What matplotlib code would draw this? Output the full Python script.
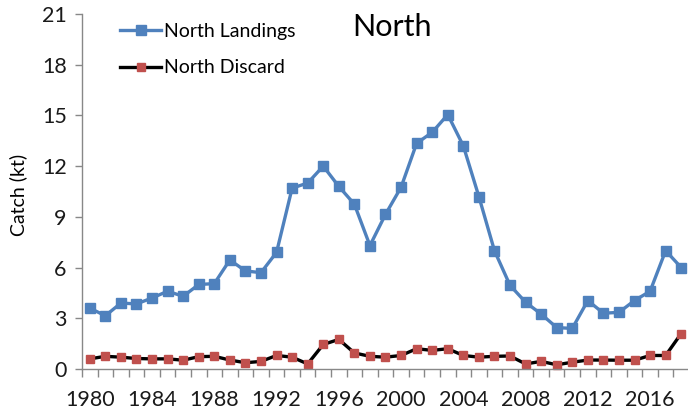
#!/usr/bin/env python3
"""
North catch chart: landings and discards by year
"""
import numpy as np
import matplotlib
matplotlib.use('Agg')
import matplotlib.pyplot as plt
from matplotlib.ticker import FixedLocator

plt.rcParams['font.family'] = ['Lato', 'DejaVu Sans']

years = list(range(1980, 2019))
landings = [3.6, 3.15, 3.9, 3.85, 4.2, 4.6, 4.3, 5.0, 5.05, 6.45,
            5.8, 5.7, 6.9, 10.7, 11.0, 12.0, 10.8, 9.75, 7.3, 9.15,
            10.75, 13.35, 14.0, 15.05, 13.2, 10.2, 7.0, 4.95, 3.95, 3.25,
            2.45, 2.4, 4.05, 3.3, 3.35, 4.05, 4.6, 7.0, 6.0]
discard = [0.6, 0.75, 0.7, 0.62, 0.6, 0.6, 0.52, 0.73, 0.75, 0.53,
           0.37, 0.45, 0.8, 0.7, 0.3, 1.45, 1.75, 0.95, 0.75, 0.7,
           0.8, 1.2, 1.1, 1.2, 0.8, 0.7, 0.75, 0.77, 0.3, 0.45,
           0.25, 0.4, 0.53, 0.53, 0.52, 0.52, 0.8, 0.8, 2.1]
year_labels = list(range(1980, 2017, 4))
y_ticks = [0, 3, 6, 9, 12, 15, 18, 21]

fig = plt.figure(figsize=(6.88, 4.16), dpi=100)
ax = fig.add_axes([82 / 688, 47 / 416, 607 / 688, 355 / 416])

ax.plot(years, landings, color='#4F81BD', linewidth=2.4, marker='s',
        markersize=6.5, markerfacecolor='#4F81BD', markeredgecolor='#4F81BD',
        label='North Landings', clip_on=False)
ax.plot(years, discard, color='black', linewidth=2.4, marker='s',
        markersize=5.5, markerfacecolor='#C0504D', markeredgecolor='#C0504D',
        label='North Discard', clip_on=False)

ax.set_xlim(1979.5, 2018.5)
ax.set_ylim(0, 21)
ax.set_yticks(y_ticks)
ax.set_xticks(year_labels)
ax.xaxis.set_minor_locator(FixedLocator(np.arange(1979.5, 2019, 1)))
ax.tick_params(axis='x', which='major', length=0, pad=15, labelsize=15.5,
               labelcolor='#1a1a1a')
ax.tick_params(axis='x', which='minor', length=6, width=1, color='#888888')
ax.tick_params(axis='y', length=5, width=1, color='#888888', labelsize=15.5,
               pad=6, labelcolor='#1a1a1a')

for side in ('top', 'right'):
    ax.spines[side].set_visible(False)
for side in ('left', 'bottom'):
    ax.spines[side].set_color('#888888')
    ax.spines[side].set_linewidth(1)

ax.set_ylabel('Catch (kt)', fontsize=14)
ax.yaxis.set_label_coords(-0.09, 0.49)
ax.text(0.511, 0.938, 'North', transform=ax.transAxes, ha='center',
        va='baseline', fontsize=22)

ax.legend(loc='upper left', bbox_to_anchor=(0.062, 0.975), frameon=False,
          fontsize=14, handlelength=2.15, handletextpad=0.15,
          labelspacing=1.0, borderpad=0, borderaxespad=0)

fig.savefig('out.png', dpi=100)
